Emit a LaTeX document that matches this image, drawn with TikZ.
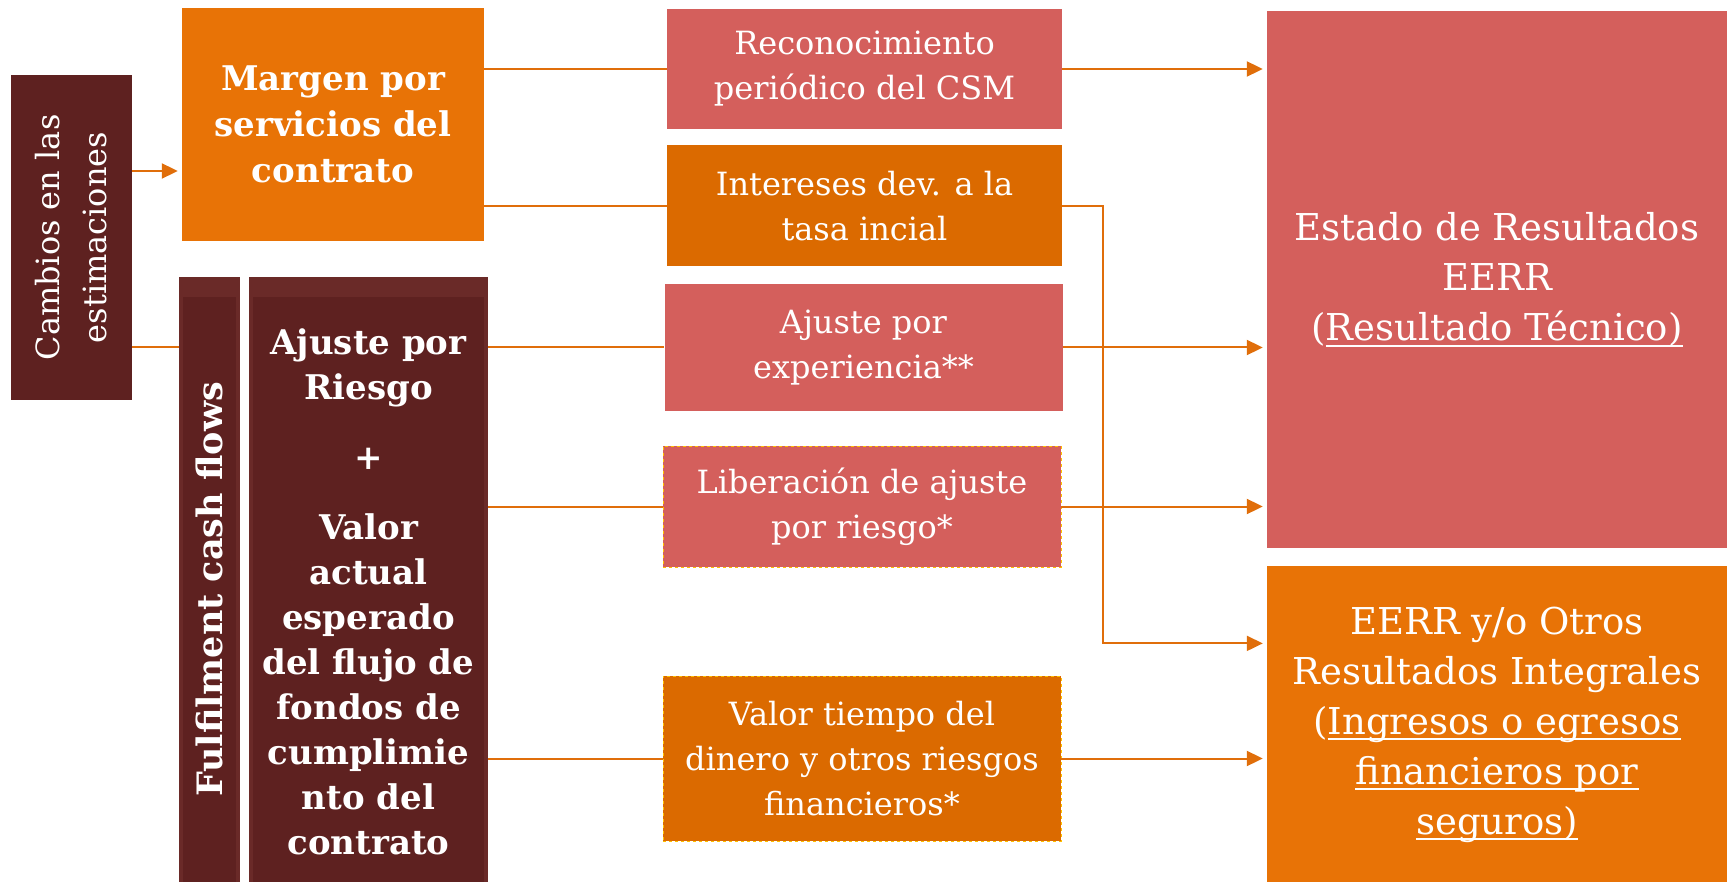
\documentclass[tikz,border=0pt]{standalone}
\usepackage{fontspec}
\setmainfont{DejaVu Serif}
\usetikzlibrary{positioning,arrows.meta}
\definecolor{vino}{RGB}{94,33,32}
\definecolor{vinoclaro}{RGB}{106,42,40}
\definecolor{naranja}{RGB}{232,115,6}
\definecolor{naranjaosc}{RGB}{219,106,0}
\definecolor{salmon}{RGB}{212,95,92}
\definecolor{linea}{RGB}{224,110,10}
\definecolor{dorado}{RGB}{255,192,0}
\newcommand{\subr}[1]{\setbox0\hbox{#1}\rlap{\rule[-0.17em]{\wd0}{0.05em}}\box0}
\tikzset{
  caja/.style={rectangle, inner sep=0pt, text=white, align=center,
    font=\fontsize{32}{45}\selectfont},
  negrita/.style={caja, font=\fontsize{34}{46}\selectfont\bfseries},
  punteada/.style={draw=dorado, dashed, line width=0.8pt},
  panel/.style={caja, fill=vino, draw=vinoclaro, line width=4pt,
    path picture={\fill[vinoclaro] (path picture bounding box.north west)
      rectangle ([yshift=-18pt]path picture bounding box.north east);}},
  conn/.style={draw=linea, line width=2pt},
  flecha/.style={conn, -{Triangle[length=16pt,width=15pt]}, shorten >=4pt}
}
\begin{document}
\begin{tikzpicture}[x=1pt, y=-1pt]
  \useasboundingbox (0,0) rectangle (1729,882);
  % Define nodes
  \node[caja, fill=vino, minimum width=121pt, minimum height=325pt] (cambios) at (71.5,237.5) {};
  \node[caja, rotate=90, font=\fontsize{32}{47}\selectfont] (cambiostxt) at (cambios.center) {Cambios en las\\estimaciones};
  \node[negrita, fill=naranja, minimum width=302pt, minimum height=233pt] (margen) at (333,124.5) {Margen por\\servicios del\\contrato};
  \node[panel, minimum width=57pt, minimum height=605pt] (ffbar) at (209.5,581.5) {};
  \node[negrita, rotate=90, font=\fontsize{35}{45}\selectfont\bfseries] (ffbartxt) at ([yshift=-8pt]ffbar.center) {Fulfilment cash flows};
  \node[panel, right=9pt of ffbar, minimum width=235pt, minimum height=605pt] (ffbox) {};
  \node[negrita, font=\fontsize{34}{45}\selectfont\bfseries] (ffboxtxt) at ([yshift=-10pt]ffbox.center) {Ajuste por\\Riesgo\\[25pt]+\\[25pt]Valor\\actual\\esperado\\del flujo de\\fondos de\\cumplimie\\nto del\\contrato};

  \node[caja, fill=salmon, minimum width=395pt, minimum height=120pt] (recon) at (864.5,69) {Reconocimiento\\periódico del CSM};
  \node[caja, fill=naranjaosc, below=16pt of recon, minimum width=395pt, minimum height=121pt] (interes) {Intereses dev. a la\\tasa incial};
  \node[caja, fill=salmon, minimum width=398pt, minimum height=127pt] (ajexp) at (863.5,347.5) {Ajuste por\\experiencia**};
  \node[caja, fill=salmon, punteada, minimum width=398pt, minimum height=121pt] (liber) at (862,506.5) {Liberación de ajuste\\por riesgo*};
  \node[caja, fill=naranjaosc, punteada, minimum width=398pt, minimum height=165pt] (valor) at (862,758.5) {Valor tiempo del\\dinero y otros riesgos\\financieros*};

  \node[caja, fill=salmon, minimum width=460pt, minimum height=537pt, font=\fontsize{37}{50}\selectfont] (estado) at (1497,279.5) {Estado de Resultados\\EERR\\(\subr{Resultado Técnico)}};
  \node[caja, fill=naranja, below=18pt of estado, minimum width=460pt, minimum height=316pt, font=\fontsize{37}{50}\selectfont] (eerr) {EERR y/o Otros\\Resultados Integrales\\(\subr{Ingresos o egresos}\\\subr{financieros por}\\\subr{seguros)}};

  % Connect nodes
  \coordinate (c1) at (132,171);
  \draw[flecha] (c1) -- (c1 -| margen.west);
  \draw[conn] (cambios.east |- ajexp.west) -- (ffbar.west |- ajexp.west);
  \draw[conn] (margen.east |- recon.west) -- (recon.west);
  \draw[conn] (margen.east |- interes.west) -- (interes.west);
  \draw[conn] (ffbox.east |- ajexp.west) -- (ajexp.west);
  \draw[conn] (ffbox.east |- liber.west) -- (liber.west);
  \draw[conn] (ffbox.east |- valor.west) -- (valor.west);
  \draw[flecha] (recon.east) -- (recon.east -| estado.west);
  \draw[flecha] (ajexp.east) -- (ajexp.east -| estado.west);
  \draw[flecha] (liber.east) -- (liber.east -| estado.west);
  \draw[flecha] (interes.east) -- ++(41,0) |- ([yshift=81pt]eerr.west);
  \draw[flecha] (valor.east) -- (valor.east -| eerr.west);
\end{tikzpicture}
\end{document}
